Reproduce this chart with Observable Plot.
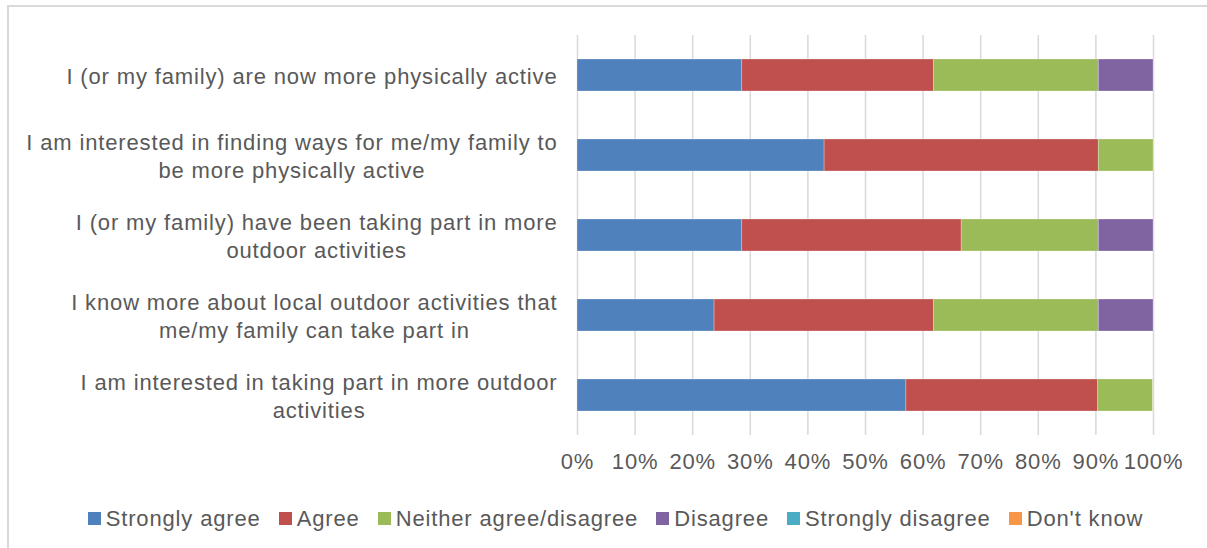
<!DOCTYPE html>
<html>
<head>
<meta charset="utf-8">
<script src="https://cdn.jsdelivr.net/npm/d3@7"></script>
<script src="https://cdn.jsdelivr.net/npm/@observablehq/plot@0.6"></script>
<style>
  html, body { margin: 0; padding: 0; background: #fff; }
  body { width: 1207px; height: 548px; overflow: hidden; position: relative; font-family: "Liberation Sans", Arial, sans-serif; }
  #frame { position: absolute; left: 7px; top: 5px; width: 1300px; height: 700px; border-top: 2px solid #d9d9d9; border-left: 2px solid #d9d9d9; }
  #chart { position: absolute; left: 0; top: 0; }
  #chart svg text { letter-spacing: 0.85px; }
  #legend { position: absolute; left: 24px; top: 502px; width: 1183px; display: flex; justify-content: center; }
  #legend div { letter-spacing: 0.85px; }
  .lg-swatch { margin-right: 18px !important; color: #595959; }
  .lg-swatch:last-child { margin-right: 0 !important; }
  .lg-swatch > svg { margin-right: 5px !important; }
</style>
</head>
<body>
<div id="frame"></div>
<div id="chart"></div>
<div id="legend"></div>
<script>
const categories = [
  "I (or my family) are now more physically active",
  "I am interested in finding ways for me/my family to\nbe more physically active",
  "I (or my family) have been taking part in more\noutdoor activities",
  "I know more about local outdoor activities that\nme/my family can take part in",
  "I am interested in taking part in more outdoor\nactivities"
];
const seriesNames = ["Strongly agree", "Agree", "Neither agree/disagree", "Disagree", "Strongly disagree", "Don't know"];
const colors = ["#4F81BD", "#C0504D", "#9BBB59", "#8064A2", "#4BACC6", "#F79646"];
const stronglyAgree     = [28.6, 42.9, 28.6, 23.8, 57.1];
const agree             = [33.3, 47.6, 38.1, 38.1, 33.3];
const neither           = [28.6,  9.5, 23.8, 28.6,  9.5];
const disagree          = [ 9.5,  0.0,  9.5,  9.5,  0.0];
const stronglyDisagree  = [ 0.0,  0.0,  0.0,  0.0,  0.0];
const dontKnow          = [ 0.0,  0.0,  0.0,  0.0,  0.0];
const xTicks = [0, 10, 20, 30, 40, 50, 60, 70, 80, 90, 100];

const seriesValues = [stronglyAgree, agree, neither, disagree, stronglyDisagree, dontKnow];
const rows = [];
seriesNames.forEach((s, si) => {
  categories.forEach((c, ci) => rows.push({category: c, series: s, value: seriesValues[si][ci]}));
});

const font = "Liberation Sans, Arial, sans-serif";
const plot = Plot.plot({
  width: 1207,
  height: 490,
  marginLeft: 577,
  marginRight: 54,
  marginTop: 35,
  marginBottom: 55,
  style: {fontFamily: font, fontSize: "22px", color: "#595959", background: "transparent", overflow: "visible"},
  x: {domain: [0, 100], ticks: xTicks},
  y: {domain: categories, paddingInner: 0.6, paddingOuter: 0.3},
  color: {domain: seriesNames, range: colors},
  marks: [
    Plot.gridX(xTicks, {stroke: "#d9d9d9", strokeOpacity: 1, strokeWidth: 1.5}),
    Plot.barX(rows, Plot.stackX({
      x: "value", y: "category", fill: "series", order: seriesNames,
      stroke: "#ffffff", strokeOpacity: 0.35, strokeWidth: 0.75
    })),
    Plot.axisX(xTicks, {tickSize: 0, tickPadding: 18, tickFormat: d => d + "%", fill: "#595959", fontSize: 22, label: null}),
    Plot.axisY({tickSize: 0, tickPadding: 20, fill: "#595959", fontSize: 22, lineHeight: 1.27, textOverflow: null, lineWidth: Infinity, label: null})
  ]
});
document.getElementById("chart").appendChild(plot);

// center the lines of each wrapped category label, keeping the block's right edge at the axis
plot.querySelectorAll('g[aria-label="y-axis tick label"] text').forEach(t => {
  const spans = t.querySelectorAll("tspan");
  if (spans.length < 2) return;
  const widths = Array.from(spans, s => s.getComputedTextLength());
  const max = Math.max(...widths);
  spans.forEach((s, i) => s.setAttribute("x", -(max - widths[i]) / 2));
});

const legend = Plot.legend({
  color: {type: "ordinal", domain: seriesNames, range: colors},
  legend: "swatches",
  swatchSize: 13,
  className: "lg",
  style: {fontFamily: font, fontSize: "22px", color: "#595959"}
});
document.getElementById("legend").appendChild(legend);
</script>
</body>
</html>
